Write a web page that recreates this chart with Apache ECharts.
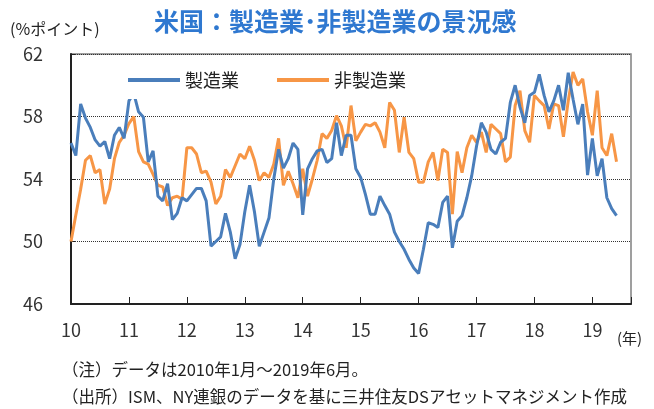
<!DOCTYPE html>
<html lang="ja">
<head>
    <meta charset="UTF-8">
    <title>米国：製造業･非製造業の景況感</title>
    <script src="https://cdn.jsdelivr.net/npm/echarts@6/dist/echarts.min.js"></script>
    <style>
        html, body { margin: 0; padding: 0; background: #fff; }
        #main { width: 654px; height: 409px; }
    </style>
</head>
<body>
<div id="main"></div>
<script>
    // 2010年1月～2019年6月 (月次)
    var seizo = [
        56.3, 55.5, 58.8, 57.9, 57.3, 56.5, 56.1, 56.4, 55.3, 56.8, 57.3, 56.6,   // 2010
        59.0, 59.5, 58.3, 57.95, 55.1, 55.8, 52.9, 52.6, 53.7, 51.4, 51.8, 52.8,  // 2011
        52.6, 53.0, 53.4, 53.4, 52.6, 49.7, 50.0, 50.3, 51.8, 50.6, 48.9, 49.8,   // 2012
        51.9, 53.6, 51.9, 49.7, 50.6, 51.5, 54.0, 55.9, 54.7, 55.3, 56.3, 55.9,   // 2013
        51.7, 54.65, 55.3, 55.8, 55.9, 55.05, 55.3, 57.6, 55.5, 56.8, 56.8, 54.65, // 2014
        54.1, 53.0, 51.75, 51.75, 52.9, 52.3, 51.75, 50.6, 50.0, 49.5, 48.85, 48.3, // 2015
        47.95, 49.5, 51.2, 51.1, 50.9, 52.5, 52.9, 49.6, 51.3, 51.65, 52.8, 54.2, // 2016
        56.1, 57.6, 57.0, 55.9, 55.6, 56.35, 56.6, 58.9, 60.0, 58.6, 57.6, 59.35, // 2017
        59.55, 60.7, 59.35, 58.3, 59.0, 60.0, 58.4, 60.8, 59.1, 57.5, 58.8, 54.25, // 2018
        56.6, 54.2, 55.3, 52.8, 52.1, 51.65                                       // 2019
    ];
    var hiseizo = [
        50.0, 51.7, 53.35, 55.2, 55.5, 54.4, 54.6, 52.4, 53.35, 55.3, 56.35, 56.8, // 2010
        57.55, 58.0, 55.75, 55.1, 54.95, 54.3, 53.6, 53.5, 52.3, 52.8, 52.9, 52.7, // 2011
        56.0, 56.0, 55.6, 54.4, 54.5, 53.8, 52.4, 52.9, 54.6, 54.1, 54.85, 55.6,  // 2012
        55.3, 56.1, 55.2, 53.9, 54.4, 54.1, 54.95, 56.6, 53.6, 54.5, 53.7, 52.8,  // 2013
        54.65, 52.9, 54.0, 55.2, 56.9, 56.6, 57.1, 58.05, 57.4, 56.0, 58.7, 56.45, // 2014
        57.0, 57.5, 57.4, 57.6, 57.0, 56.0, 58.9, 58.4, 55.7, 57.95, 55.7, 55.3,  // 2015
        53.8, 53.8, 55.1, 55.7, 53.9, 55.9, 55.7, 51.75, 55.75, 54.4, 56.0, 56.8, // 2016
        56.35, 57.0, 55.7, 57.5, 57.2, 56.9, 55.1, 55.4, 58.7, 59.65, 57.1, 56.35, // 2017
        59.35, 59.0, 58.7, 57.2, 58.8, 58.7, 56.7, 59.0, 60.85, 60.0, 60.4, 58.3, // 2018
        56.8, 59.65, 56.0, 55.5, 56.9, 55.1                                       // 2019
    ];
    var yearLabels = ['10', '11', '12', '13', '14', '15', '16', '17', '18', '19'];
    var yTicks = [46, 50, 54, 58, 62];

    var font = '"Noto Sans CJK JP", "Noto Sans", sans-serif';

    // x = 2010年1月からの月数
    function toPoints(arr) {
        return arr.map(function (v, i) { return [i, v]; });
    }

    var myChart = echarts.init(document.getElementById('main'));

    var option = {
        animation: false,
        backgroundColor: '#fff',
        textStyle: { fontFamily: font },
        title: [
            {
                text: '米国：製造業･非製造業の景況感',
                left: 149, top: 4,
                textStyle: { color: '#2f78d0', fontSize: 25, fontWeight: 'bold', fontFamily: font }
            },
            {
                text: '(%ポイント)',
                left: 5, top: 16,
                textStyle: { color: '#222', fontSize: 16, fontWeight: 'normal', fontFamily: font }
            },
            {
                text: '(年)',
                left: 612, top: 326,
                textStyle: { color: '#222', fontSize: 15, fontWeight: 'normal', fontFamily: font }
            },
            {
                text: '（注）データは2010年1月～2019年6月。',
                left: 57, top: 356,
                textStyle: { color: '#222', fontSize: 16.5, fontWeight: 'normal', fontFamily: font }
            },
            {
                text: '（出所）ISM、NY連銀のデータを基に三井住友DSアセットマネジメント作成',
                left: 57, top: 383,
                textStyle: { color: '#222', fontSize: 16.5, fontWeight: 'normal', fontFamily: font }
            }
        ],
        legend: {
            data: ['製造業', '非製造業'],
            left: 122, top: 66,
            icon: 'rect',
            itemWidth: 52, itemHeight: 4,
            itemGap: 38,
            padding: [5, 6, 10, 6],
            backgroundColor: '#fff',
            textStyle: { color: '#222', fontSize: 18, fontFamily: font }
        },
        grid: {
            left: 71, right: 23, top: 54, bottom: 105,
            show: true,
            borderColor: '#808080',
            borderWidth: 1.5
        },
        xAxis: {
            type: 'value',
            min: 0, max: 116, interval: 12,
            axisLine: { show: true, lineStyle: { color: '#222', width: 2 } },
            axisTick: { show: true, inside: true, length: 7, lineStyle: { color: '#222', width: 1 } },
            splitLine: { show: false },
            axisLabel: {
                margin: 17,
                color: '#333',
                fontSize: 18,
                fontFamily: font,
                formatter: function (v) {
                    if (v % 12 !== 0) return '';
                    return yearLabels[v / 12] || '';
                }
            }
        },
        yAxis: {
            type: 'value',
            min: yTicks[0], max: yTicks[yTicks.length - 1], interval: 4,
            axisLine: { show: true, lineStyle: { color: '#222', width: 2 } },
            axisTick: { show: true, inside: true, length: 4, lineStyle: { color: '#222' } },
            splitLine: { show: true, lineStyle: { color: '#333', type: 'dotted', width: 1 } },
            axisLabel: { margin: 28, color: '#333', fontSize: 18, fontFamily: font }
        },
        series: [
            {
                name: '製造業',
                type: 'line',
                data: toPoints(seizo),
                symbol: 'none',
                color: '#4a7ebb',
                lineStyle: { color: '#4a7ebb', width: 3 },
                z: 3
            },
            {
                name: '非製造業',
                type: 'line',
                data: toPoints(hiseizo),
                symbol: 'none',
                color: '#f79646',
                lineStyle: { color: '#f79646', width: 3 },
                z: 2
            }
        ]
    };

    myChart.setOption(option);
</script>
</body>
</html>
